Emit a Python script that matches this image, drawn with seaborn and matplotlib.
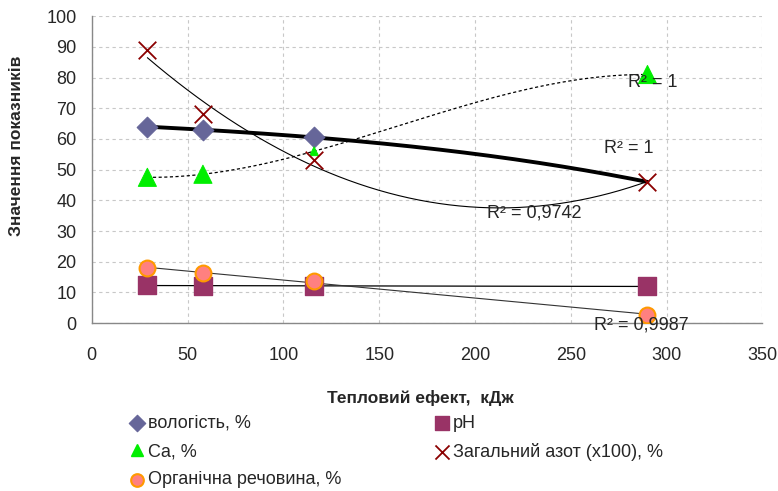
import numpy as np
import pandas as pd
import seaborn as sns
import matplotlib.pyplot as plt

# Дані
teplo = [29, 58, 116, 290]
vologist = [64, 63, 60.5, 46]
ph = [12.5, 12.0, 12.0, 12.0]
ca = [47.5, 48.5, 56, 81]
azot = [89, 68, 53, 46]
organika = [18, 16.2, 13.7, 2.7]

r2_labels = ['R² = 1', 'R² = 1', 'R² = 0,9742', 'R² = 0,9987']

sns.set_style('whitegrid')
plt.rcParams['font.family'] = ['Liberation Sans', 'DejaVu Sans']

fig = plt.figure(figsize=(7.78, 4.91), dpi=100)
ax = fig.add_axes([0.118, 0.342, 0.862, 0.625])

df = pd.DataFrame({'x': teplo, 'vol': vologist, 'ph': ph, 'ca': ca,
                   'n': azot, 'org': organika})

# лінії тренду (поліноміальні, як в Excel)
xs = np.linspace(min(teplo), max(teplo), 200)
def trend(y, deg):
    return np.polyval(np.polyfit(teplo, y, deg), xs)

ax.plot(xs, trend(vologist, 3), color='black', lw=2.8, zorder=2)
ax.plot(xs, trend(ph, 1), color='black', lw=0.9, zorder=2)
ax.plot(xs, trend(ca, 3), color='black', lw=0.9, ls=(0, (2.5, 2)), zorder=2)
ax.plot(xs, trend(azot, 2), color='black', lw=0.8, zorder=2)
ax.plot(xs, trend(organika, 1), color='#333333', lw=0.8, zorder=2)

# маркери (останній маркер вологості в оригіналі не видно)
sns.scatterplot(data=df.iloc[:3], x='x', y='vol', ax=ax, marker='D', s=110, color='#666699',
                edgecolor='#666699', label='вологість, %', zorder=3)
sns.scatterplot(data=df, x='x', y='ph', ax=ax, marker='s', s=150, color='#993366',
                edgecolor='#993366', label='pH', zorder=3)
sns.scatterplot(data=df, x='x', y='ca', ax=ax, marker='^', size='x',
                sizes={29: 170, 58: 170, 116: 40, 290: 170},
                color='#00ee00', edgecolor='#00ee00', legend=False, zorder=3)
sns.scatterplot(data=df, x='x', y='n', ax=ax, marker='x', s=160, color='#8B0000',
                linewidth=1.3, label='Загальний азот (x100), %', zorder=4)
sns.scatterplot(data=df, x='x', y='org', ax=ax, marker='o', s=130, color='#FF8080',
                edgecolor='#FF9900', linewidth=1.5, label='Органічна речовина, %', zorder=4)

# підписи R²
ax.text(293, 78.5, r2_labels[0], fontsize=13, ha='center', va='center', zorder=5)
ax.text(280, 57, r2_labels[1], fontsize=13, ha='center', va='center', zorder=5)
ax.text(231, 36, r2_labels[2], fontsize=13, ha='center', va='center', zorder=5)
ax.text(287, -0.5, r2_labels[3], fontsize=13, ha='center', va='center', zorder=5)

ax.set_xlim(0, 350)
ax.set_ylim(0, 100)
ax.set_xticks(range(0, 351, 50))
ax.set_yticks(range(0, 101, 10))
ax.grid(True, color='#c8c8c8', ls=(0, (3, 3)), lw=0.8)
for s in ['top', 'right']:
    ax.spines[s].set_visible(False)
for s in ['left', 'bottom']:
    ax.spines[s].set_color('#888888')
    ax.spines[s].set_linewidth(1)
ax.tick_params(axis='both', which='both', direction='out', length=5, color='#888888',
               labelsize=13, width=1)
ax.tick_params(axis='x', pad=12)
ax.tick_params(axis='y', pad=6)
ax.set_xlabel('Тепловий ефект,  кДж', fontsize=12.5, fontweight='bold')
ax.set_ylabel('Значення показників', fontsize=12.5, fontweight='bold')
ax.xaxis.set_label_coords(0.49, -0.218)
ax.yaxis.set_label_coords(-0.101, 0.577)

# легенда під графіком
ax.get_legend().remove()
h = {l: hh for hh, l in zip(*ax.get_legend_handles_labels())}
ca_handle = plt.Line2D([], [], marker='^', color='#00ee00', ls='', markersize=11)
handles = [h['вологість, %'], ca_handle, h['Органічна речовина, %'],
           h['pH'], h['Загальний азот (x100), %']]
labels = ['вологість, %', 'Ca, %', 'Органічна речовина, %', 'pH', 'Загальний азот (x100), %']
fig.legend(handles, labels, ncol=2, loc='upper left', bbox_to_anchor=(0.165, 0.155),
           frameon=False, fontsize=13, handletextpad=0.1, columnspacing=5.05,
           labelspacing=0.62, handlelength=1.0, markerscale=0.8,
           borderpad=0, borderaxespad=0)

fig.savefig('out.png', dpi=100)
